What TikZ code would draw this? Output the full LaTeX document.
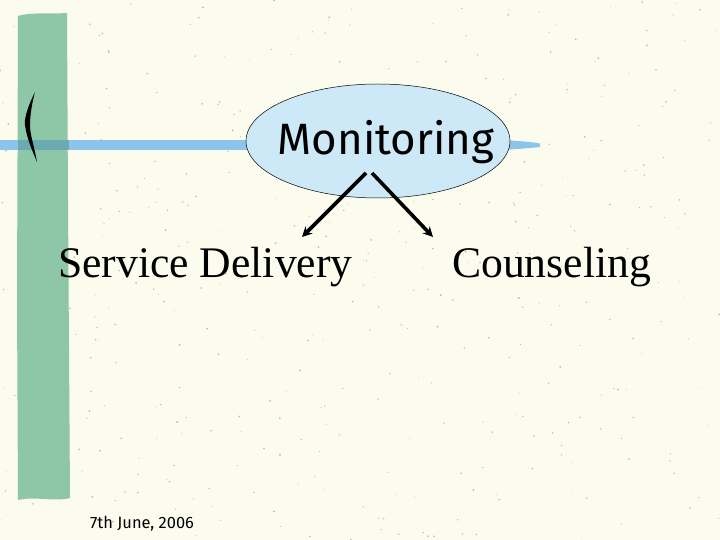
\documentclass[tikz,border=0pt]{standalone}
\usepackage{fontspec}
\setmainfont{Liberation Serif}
\newfontfamily\handfont{Fira Sans}
\usetikzlibrary{arrows.meta,shapes.geometric}
\definecolor{paper}{HTML}{FBFBEE}
\definecolor{barGreen}{HTML}{8EC6A8}
\definecolor{lineBlue}{HTML}{8CC4EC}
\definecolor{mixBlue}{HTML}{6CAAB2}
\definecolor{ellFill}{HTML}{CDE9F8}
\tikzset{
  serif label/.style={font=\fontsize{43.8}{50}\selectfont, inner sep=0pt, anchor=base west},
  arrowline/.style={line width=3.6pt, -{Stealth[length=10pt,width=10pt]}},
  speck/.style={fill=black!28},
}
\begin{document}
\begin{tikzpicture}[x=1bp,y=-1bp]
\useasboundingbox (0,0) rectangle (720,540);
\fill[paper] (0,0) rectangle (720,540);
% green bar
\fill[barGreen] (18,16) .. controls (30,12) and (55,14) .. (67,13)
  -- (68,200) -- (70,498) .. controls (55,502) and (35,496) .. (18,500)
  -- (17,300) -- cycle;
% speckles
\pgfmathsetseed{7}
\foreach \i in {1,...,420}{
  \pgfmathsetmacro{\px}{rnd*720}
  \pgfmathsetmacro{\py}{rnd*540}
  \pgfmathsetmacro{\pr}{0.4+rnd*0.6}
  \fill[speck] (\px,\py) circle (\pr);
}
% blue line
\fill[lineBlue] (0,140) rectangle (250,150);
\fill[mixBlue] (18,140) rectangle (69,150);
\fill[lineBlue] (505,140) -- (530,142) -- (540,143.5) -- (540,147) -- (530,148) -- (505,150) -- cycle;
% bracket
\fill[black] (35,92) .. controls (27,108) and (24,120) .. (25,125)
  .. controls (27,140) and (33,152) .. (37,162)
  .. controls (34,145) and (30,135) .. (30,125)
  .. controls (30,115) and (32,103) .. (35,92) -- cycle;
% ellipse
\node[ellipse, draw=black, line width=0.5pt, fill=ellFill, minimum width=264bp, minimum height=114bp, inner sep=0pt] (mon) at (378,141) {};
\node[font=\handfont\fontsize{44}{50}\selectfont, inner sep=0pt] (montext) at (386,142) {Monitoring};
% labels
\node[serif label] (sd) at (58,278) {Service Delivery};
\node[serif label] (co) at (452,278) {Counseling};
\coordinate (s1) at (366,173);
\coordinate (s2) at (372,173);
\coordinate (t1) at (302,237);
\coordinate (t2) at (433,237);
\draw[arrowline] (s1) -- (t1);
\draw[arrowline] (s2) -- (t2);
% date
\node[font=\handfont\fontsize{16.5}{19}\selectfont, inner sep=0pt, anchor=base west] (date) at (90,528) {7th June, 2006};
\end{tikzpicture}
\end{document}
